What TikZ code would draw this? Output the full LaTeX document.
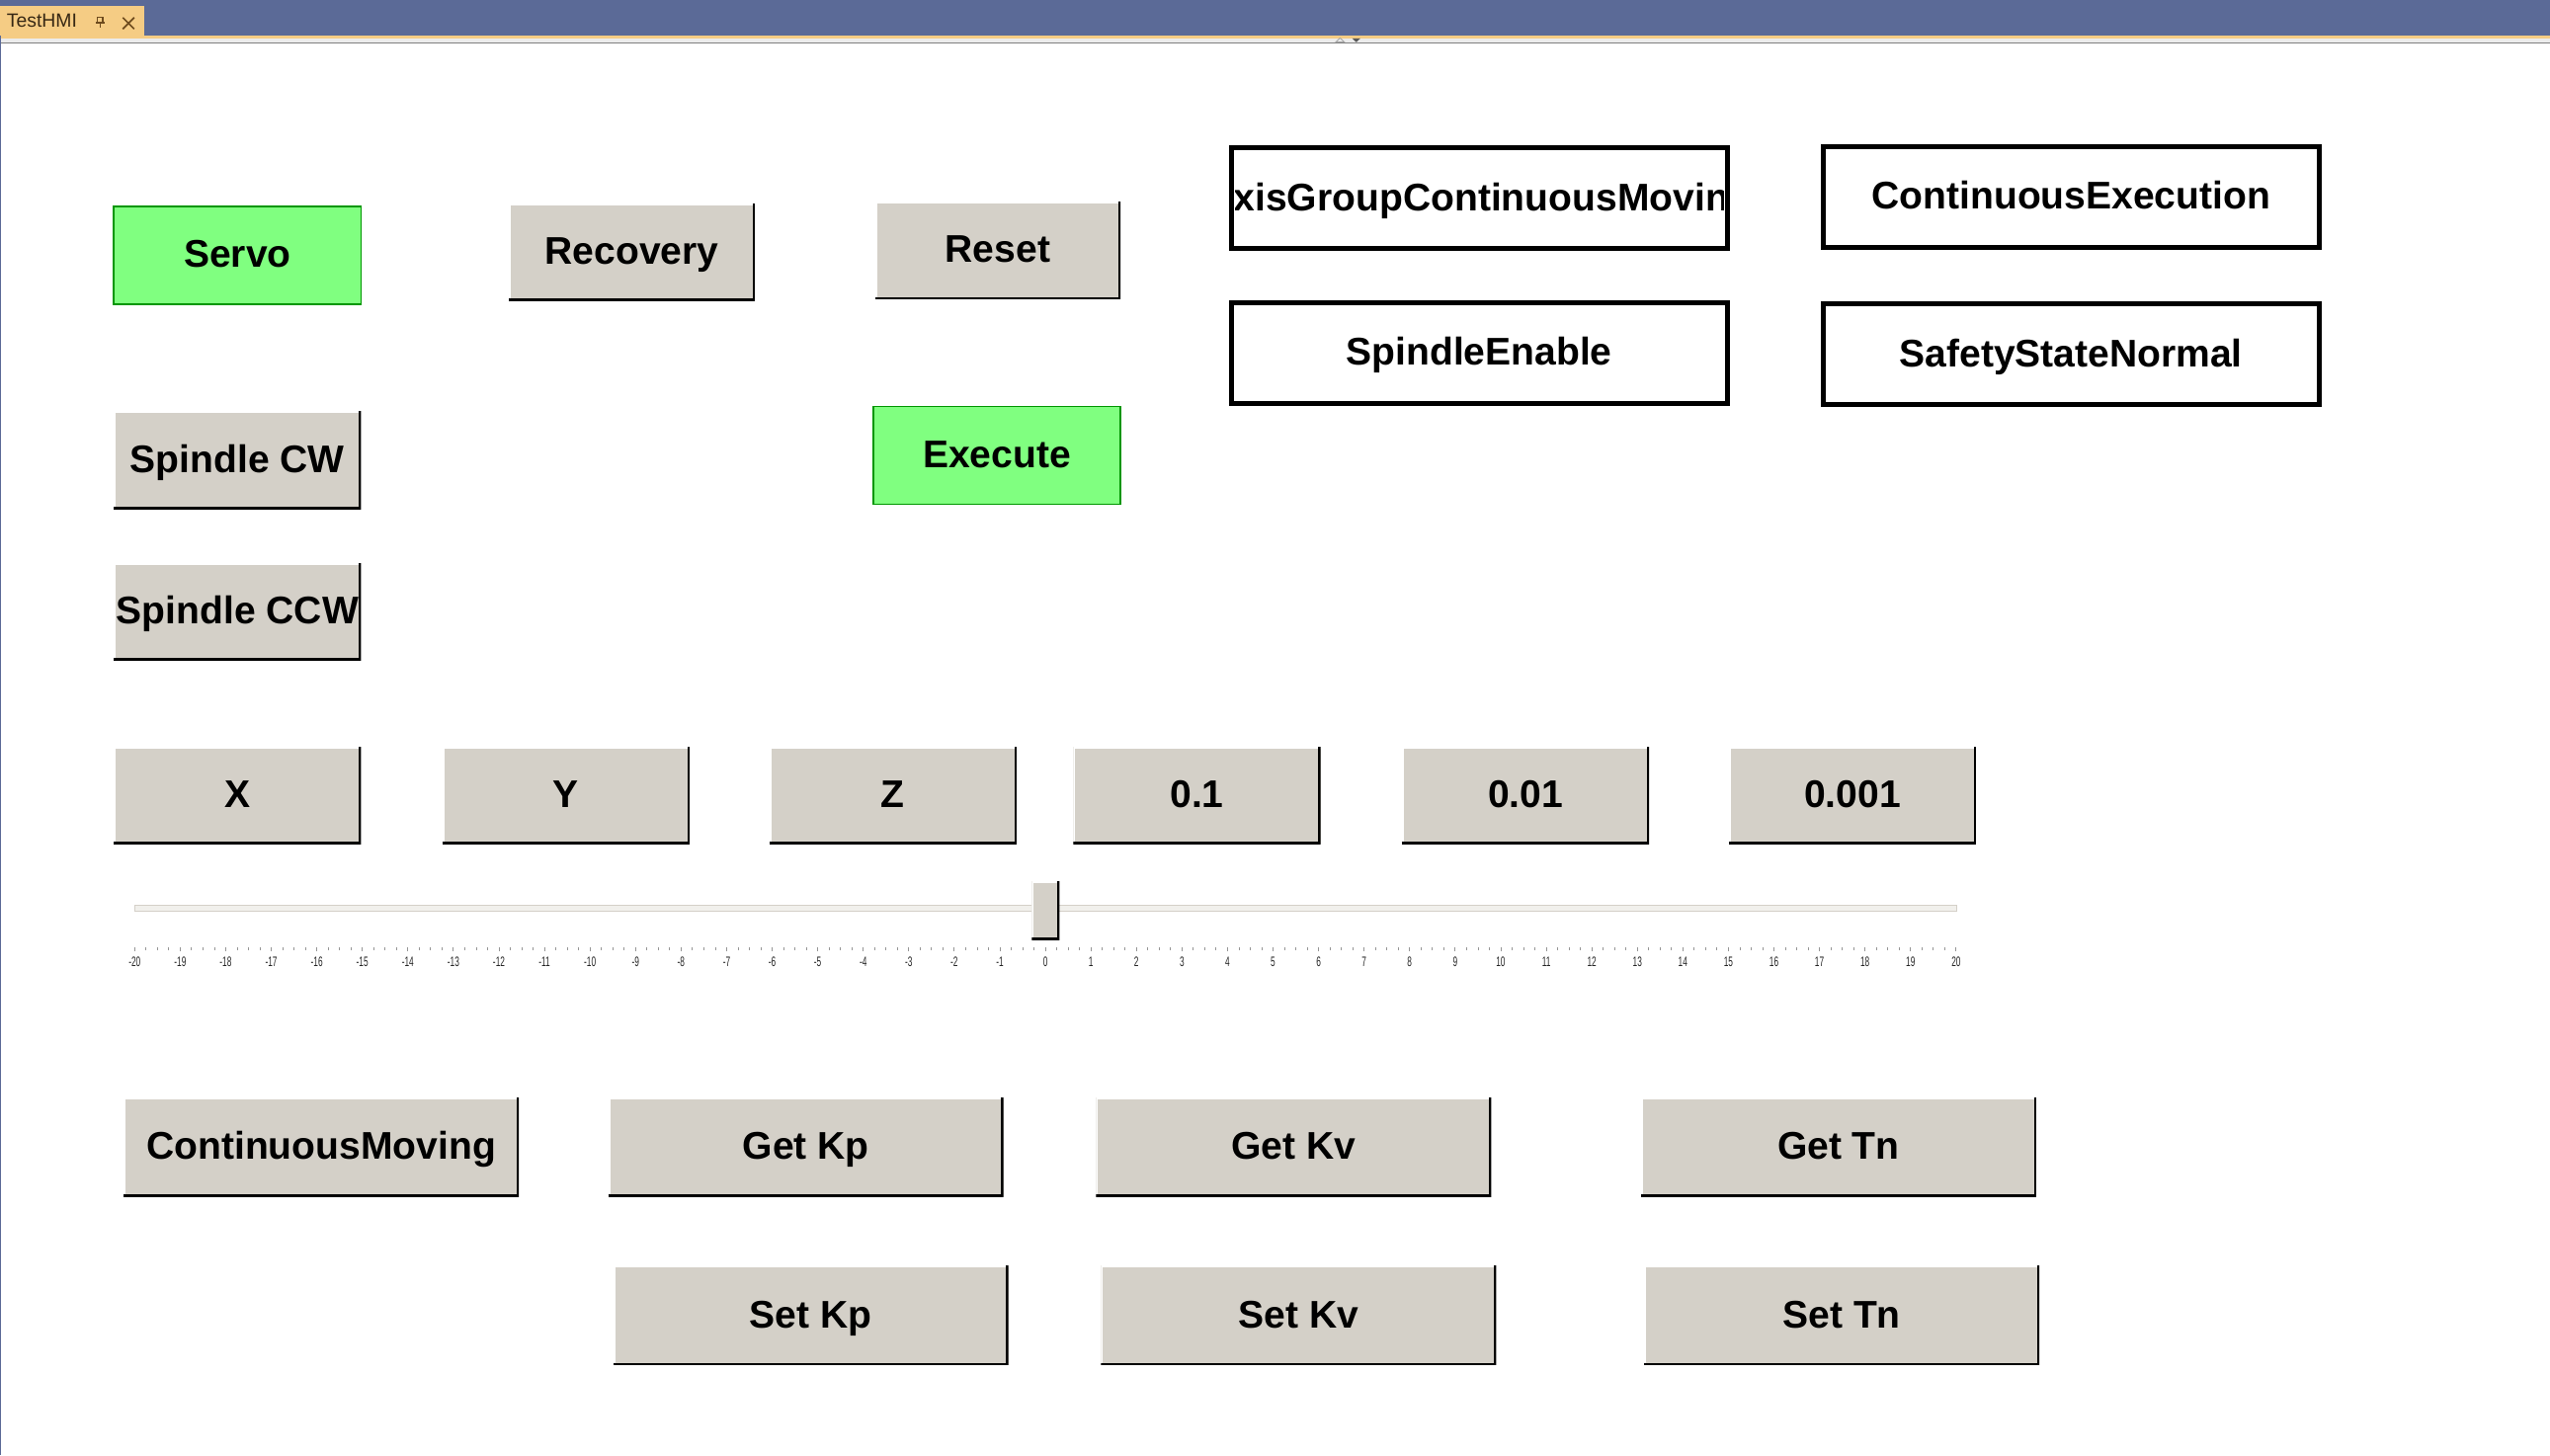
\documentclass[tikz,border=0pt]{standalone}
\usepackage{fontspec}
\setmainfont{Liberation Sans}

\definecolor{barblue}{RGB}{91,106,151}
\definecolor{tabgold}{RGB}{245,204,132}
\definecolor{tabink}{RGB}{55,40,20}
\definecolor{pinbrown}{RGB}{110,75,30}
\definecolor{stripgray}{RGB}{236,236,236}
\definecolor{btnface}{RGB}{212,208,200}
\definecolor{ongreen}{RGB}{128,255,128}
\definecolor{ongreenline}{RGB}{0,150,0}
\definecolor{trackface}{RGB}{241,240,236}
\definecolor{tickgray}{RGB}{150,150,150}

\newcommand\hmifont{\fontsize{13.5pt}{16pt}\selectfont\bfseries}

\begin{document}
\begin{tikzpicture}[x=0.2mm, y=-0.2mm,
    every node/.style={inner sep=0pt, outer sep=0pt},
    caption/.style={font=\hmifont, text height=3.4mm, text depth=0.4mm},
    button/.style={rectangle, fill=btnface, minimum width=30.4mm, minimum height=12mm, caption,
      path picture={
        \draw[white, line width=1.4pt] (path picture bounding box.south west) |- (path picture bounding box.north east);
        \draw[black, line width=1.5pt] (path picture bounding box.south west) -| (path picture bounding box.north east);
      }},
    widebutton/.style={button, minimum width=48.6mm, minimum height=12.2mm},
    onbutton/.style={rectangle, fill=ongreen, draw=ongreenline, line width=0.5pt,
      minimum width=30.4mm, minimum height=12mm, caption},
    lamp/.style={rectangle, fill=white, draw=black, line width=1.7pt, minimum width=61mm, minimum height=12.4mm},
    lamptext/.style={caption},
    scaletick/.style={tickgray, line width=0.3pt},
    ticklabel/.style={font=\fontsize{4.8pt}{5pt}\selectfont, xscale=0.6, transform shape, text=black!85}
  ]
  \useasboundingbox (0,0) rectangle (1568,895);
  \fill[white] (0,0) rectangle (1568,895);

  % window title bar with the document tab
  \fill[barblue] (0,0) rectangle (1568,21.7);
  \fill[tabgold] (0,21.7) rectangle (1568,23.9);
  \fill[stripgray] (0,23.9) rectangle (1568,26.3);
  \draw[gray, line width=0.4pt] (0,26.6) -- (1568,26.6);
  \fill[tabgold] (0,3.6) rectangle (88.5,22);
  \node[anchor=west, font=\fontsize{6.7pt}{7pt}\selectfont, text=tabink] (tabtitle) at (4.2,13) {TestHMI};
  \draw[pinbrown, line width=0.5pt] (60,10.6) rectangle (63.2,13.6);
  \draw[pinbrown, line width=0.6pt] (58.8,14) -- (64.4,14);
  \draw[pinbrown, line width=0.6pt] (61.6,14) -- (61.6,17.2);
  \draw[pinbrown, line width=0.6pt] (75.5,10.8) -- (82.5,17.8);
  \draw[pinbrown, line width=0.6pt] (75.5,17.8) -- (82.5,10.8);
  \draw[gray!70, line width=0.3pt] (821.5,25.8) -- (824,23.4) -- (826.5,25.8) -- cycle;
  \fill[gray!70!black] (831.5,23.6) -- (836.5,23.6) -- (834,26) -- cycle;
  \draw[barblue, line width=0.35pt] (0.3,22) -- (0.3,895);

  % command buttons
  \node[onbutton] (servo) at (146,157) {Servo};
  \node[button, minimum width=30.2mm] (recovery) at (388.5,155) {Recovery};
  \node[button, minimum width=30.2mm] (reset) at (613.5,154) {Reset};
  \node[onbutton] (execute) at (613,280) {Execute};
  \node[button] (spindlecw) at (146,283) {Spindle CW};
  \node[button] (spindleccw) at (146,376) {Spindle CCW};

  % status lamps
  \node[lamp] (axismoving) at (909.5,122) {};
  \node[lamp] (contexec) at (1273.5,121) {};
  \node[lamp] (spindleon) at (909.5,217) {};
  \node[lamp] (safetyok) at (1273.5,218) {};
  \begin{scope}
    \clip ([shift={(2.5,-2.5)}]axismoving.south west) rectangle ([shift={(-2.5,2.5)}]axismoving.north east);
    \node[lamptext] (axismovingtext) at (axismoving.center) {AxisGroupContinuousMoving};
  \end{scope}
  \node[lamptext] (contexectext) at (contexec.center) {ContinuousExecution};
  \node[lamptext] (spindleontext) at (spindleon.center) {SpindleEnable};
  \node[lamptext] (safetyoktext) at (safetyok.center) {SafetyStateNormal};

  % axis and step selection
  \node[button] (axisx) at (146,489) {X};
  \node[button] (axisy) at (348,489) {Y};
  \node[button] (axisz) at (549,489) {Z};
  \node[button] (step1) at (736,489) {0.1};
  \node[button] (step2) at (938,489) {0.01};
  \node[button] (step3) at (1139,489) {0.001};

  % jog slider
  \node[rectangle, fill=trackface, draw=btnface, line width=0.4pt, minimum width=224mm, minimum height=0.7mm] (track) at (643,558.5) {};
  \node[button, minimum width=3.4mm, minimum height=7.2mm] (thumb) at (643,560) {};
  \foreach \k in {0,...,160}
    \draw[scaletick] (82.8+7*\k,582.5) -- (82.8+7*\k,584.3);
  \foreach \v in {-20,...,20}{
    \draw[scaletick] (642.8+28*\v,582.5) -- (642.8+28*\v,585.3);
    \node[ticklabel] (lbl\v) at (642.8+28*\v,591.5) {\v};
  }

  % controller gains
  \node[widebutton] (contmoving) at (197.5,705.5) {ContinuousMoving};
  \node[widebutton] (getkp) at (495.5,705.5) {Get Kp};
  \node[widebutton] (getkv) at (795.5,705.5) {Get Kv};
  \node[widebutton] (gettn) at (1130.5,705.5) {Get Tn};
  \node[widebutton] (setkp) at (498.5,809) {Set Kp};
  \node[widebutton] (setkv) at (798.5,809) {Set Kv};
  \node[widebutton] (settn) at (1132.5,809) {Set Tn};
\end{tikzpicture}
\end{document}
